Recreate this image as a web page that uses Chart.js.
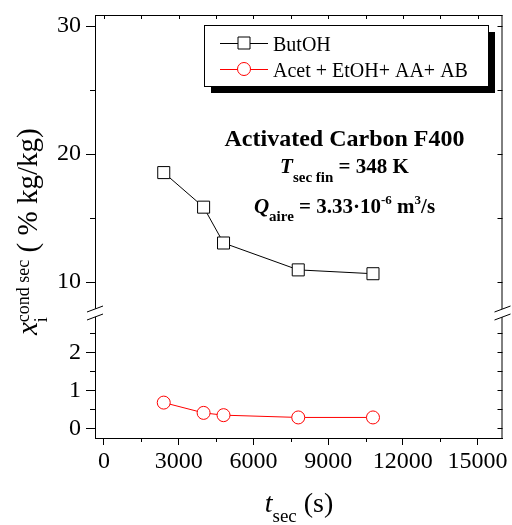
<!DOCTYPE html>
<html>
<head>
<meta charset="utf-8">
<script src="https://cdn.jsdelivr.net/npm/chart.js@4/dist/chart.umd.min.js"></script>
<style>
  html, body { margin: 0; padding: 0; background: #fff; }
</style>
</head>
<body>
<canvas id="chart" width="512" height="525"></canvas>
<script>
// drying time t_sec (s)
const tButOH = [2400, 4000, 4800, 7800, 10800];
const butOH = [18.55, 15.85, 13.05, 10.95, 10.65];
const tOthers = [2400, 4000, 4800, 7800, 10800];
const others = [0.68, 0.41, 0.35, 0.29, 0.29];

const xTicks = [0, 3000, 6000, 9000, 12000, 15000];
const xMinor = [1500, 4500, 7500, 10500, 13500];
const yTopTicks = [10, 20, 30];
const yTopMinor = [15, 25];
const yBotTicks = [0, 1, 2];
const yBotMinor = [0.5, 1.5, 2.5];

const legendLabels = ['ButOH', 'Acet + EtOH+ AA+ AB'];

const SERIF = '"Liberation Serif", "Times New Roman", serif';
Chart.defaults.font.family = SERIF;
Chart.defaults.color = '#000';

// draws a run of text pieces (sub/superscripts) from x, returns width
function drawRuns(ctx, runs, x, y, measureOnly) {
    let cx = x;
    runs.forEach(r => {
        ctx.font = r.f;
        const w = ctx.measureText(r.t).width;
        if (!measureOnly) ctx.fillText(r.t, cx, y + (r.dy || 0));
        if (!r.stay) cx += w;
    });
    return cx - x;
}
function drawCentered(ctx, runs, cx, y) {
    const w = drawRuns(ctx, runs, 0, 0, true);
    drawRuns(ctx, runs, cx - w / 2, y);
}

// fixed axis size, no extra room for overhanging labels
function fitY(s) { s.width = 50; s.paddingTop = 0; s.paddingBottom = 0; }
function fitX(s) { s.height = 40; s.paddingLeft = 0; s.paddingRight = 0; }

const axisStyle = {
    grid: { drawOnChartArea: false, color: '#000', tickLength: 9 },
    border: { color: '#000', width: 1 },
    ticks: { color: '#000', font: { size: 24 }, padding: 5, callback: v => String(v) }
};

const extras = {
    id: 'extras',
    afterDraw(chart) {
        const ctx = chart.ctx;
        const a = chart.chartArea;
        const x = chart.scales.x, yT = chart.scales.yTop, yB = chart.scales.yBot;
        ctx.save();
        ctx.strokeStyle = '#000';
        ctx.lineWidth = 1;

        // top and right frame
        ctx.beginPath();
        ctx.moveTo(a.left, a.top + 0.5); ctx.lineTo(a.right, a.top + 0.5);
        ctx.moveTo(a.right - 0.5, a.top); ctx.lineTo(a.right - 0.5, a.bottom);
        ctx.stroke();

        ctx.beginPath();
        // x minor ticks (outside) and top ticks (inside)
        xMinor.forEach(v => {
            const px = Math.round(x.getPixelForValue(v)) + 0.5;
            ctx.moveTo(px, a.bottom); ctx.lineTo(px, a.bottom + 4);
        });
        xTicks.concat(xMinor).forEach(v => {
            const px = Math.round(x.getPixelForValue(v)) + 0.5;
            ctx.moveTo(px, a.top); ctx.lineTo(px, a.top + 4);
        });
        // y minor ticks (outside) and right ticks (inside)
        [[yT, yTopTicks, yTopMinor], [yB, yBotTicks, yBotMinor]].forEach(([s, maj, min]) => {
            min.forEach(v => {
                const py = Math.round(s.getPixelForValue(v)) + 0.5;
                ctx.moveTo(a.left - 5, py); ctx.lineTo(a.left, py);
            });
            maj.concat(min).forEach(v => {
                const py = Math.round(s.getPixelForValue(v)) + 0.5;
                ctx.moveTo(a.right - 5, py); ctx.lineTo(a.right, py);
            });
        });
        ctx.stroke();

        // axis break marks
        const yb = yT.bottom - 1;
        [a.left, a.right].forEach(bx => {
            ctx.fillStyle = '#fff';
            ctx.beginPath();
            ctx.moveTo(bx - 8, yb + 1); ctx.lineTo(bx + 8, yb - 5);
            ctx.lineTo(bx + 8, yb + 3); ctx.lineTo(bx - 8, yb + 9);
            ctx.closePath();
            ctx.fill();
            ctx.beginPath();
            ctx.moveTo(bx - 8, yb + 1); ctx.lineTo(bx + 8, yb - 5);
            ctx.moveTo(bx - 8, yb + 9); ctx.lineTo(bx + 8, yb + 3);
            ctx.stroke();
        });

        // legend with drop shadow
        const lx = 204, ly = 25, lw = 284, lh = 61;
        ctx.fillStyle = '#000';
        ctx.fillRect(lx + 7, ly + 7, lw, lh);
        ctx.fillStyle = '#fff';
        ctx.fillRect(lx, ly, lw, lh);
        ctx.strokeRect(lx + 0.5, ly + 0.5, lw, lh);
        const rows = [ly + 18, ly + 44];
        chart.data.datasets.forEach((ds, i) => {
            const ry = rows[i];
            ctx.strokeStyle = ds.borderColor;
            ctx.beginPath();
            ctx.moveTo(220, ry + 0.5); ctx.lineTo(268, ry + 0.5);
            ctx.stroke();
            ctx.fillStyle = '#fff';
            ctx.beginPath();
            if (ds.pointStyle === 'rect') ctx.rect(238, ry - 6, 12, 12);
            else ctx.arc(244, ry, 6.5, 0, Math.PI * 2);
            ctx.fill(); ctx.stroke();
            ctx.fillStyle = '#000';
            ctx.font = '20px ' + SERIF;
            ctx.textBaseline = 'alphabetic';
            ctx.fillText(legendLabels[i], 273, ry + 8);
        });

        // annotation
        ctx.fillStyle = '#000';
        ctx.textBaseline = 'alphabetic';
        const B = 'bold ', BI = 'italic bold ';
        drawCentered(ctx, [{ t: 'Activated Carbon F400', f: B + '24px ' + SERIF }], 344.5, 146);
        drawCentered(ctx, [
            { t: 'T', f: BI + '21px ' + SERIF },
            { t: 'sec fin', f: B + '15px ' + SERIF, dy: 9 },
            { t: ' = 348 K', f: B + '21px ' + SERIF }
        ], 344.5, 173);
        drawCentered(ctx, [
            { t: 'Q', f: BI + '21px ' + SERIF },
            { t: 'aire', f: B + '15px ' + SERIF, dy: 8 },
            { t: ' = 3.33\u00b710', f: B + '21px ' + SERIF },
            { t: '-6', f: B + '13px ' + SERIF, dy: -9 },
            { t: ' m', f: B + '21px ' + SERIF },
            { t: '3', f: B + '13px ' + SERIF, dy: -9 },
            { t: '/s', f: B + '21px ' + SERIF }
        ], 344.5, 213);

        // x title
        drawCentered(ctx, [
            { t: 't', f: 'italic 28px ' + SERIF },
            { t: 'sec', f: '19px ' + SERIF, dy: 10 },
            { t: ' (s)', f: '28px ' + SERIF }
        ], 299, 512);

        // y title (rotated)
        ctx.translate(37, 335);
        ctx.rotate(-Math.PI / 2);
        drawRuns(ctx, [
            { t: 'x', f: 'italic 29px ' + SERIF },
            { t: 'i', f: '18px ' + SERIF, dy: 10, stay: true },
            { t: 'cond sec', f: '18px ' + SERIF, dy: -8 },
            { t: ' ( % kg/kg)', f: '29px ' + SERIF }
        ], 0, 0);
        ctx.restore();
    }
};

new Chart(document.getElementById('chart'), {
    type: 'line',
    data: {
        datasets: [
            {
                label: legendLabels[0],
                data: tButOH.map((t, i) => ({ x: t, y: butOH[i] })),
                yAxisID: 'yTop',
                borderColor: '#000', borderWidth: 1,
                backgroundColor: '#fff',
                pointStyle: 'rect', pointRadius: 8.5, pointBorderWidth: 1,
                pointBorderColor: '#000', pointBackgroundColor: '#fff'
            },
            {
                label: legendLabels[1],
                data: tOthers.map((t, i) => ({ x: t, y: others[i] })),
                yAxisID: 'yBot',
                borderColor: '#ff0000', borderWidth: 1,
                backgroundColor: '#fff',
                pointStyle: 'circle', pointRadius: 6.5, pointBorderWidth: 1,
                pointBorderColor: '#ff0000', pointBackgroundColor: '#fff'
            }
        ]
    },
    options: {
        responsive: false,
        animation: false,
        devicePixelRatio: 1,
        layout: { padding: { left: 45, right: 6, top: 15, bottom: 47 } },
        plugins: { legend: { display: false }, tooltip: { enabled: false } },
        scales: {
            x: {
                type: 'linear', min: -360, max: 16000,
                afterBuildTicks: s => { s.ticks = xTicks.map(v => ({ value: v })); },
                afterFit: fitX,
                grid: { drawOnChartArea: false, color: '#000', tickLength: 7 },
                border: { color: '#000', width: 1 },
                ticks: { color: '#000', font: { size: 24 }, padding: 2, maxRotation: 0, callback: v => String(v) }
            },
            // stacked scales: the first one listed sits at the bottom
            yBot: Object.assign({}, axisStyle, {
                type: 'linear', position: 'left', stack: 'y', stackWeight: 126,
                min: -0.25, max: 3.06,
                afterBuildTicks: s => { s.ticks = yBotTicks.map(v => ({ value: v })); },
                afterFit: fitY
            }),
            yTop: Object.assign({}, axisStyle, {
                type: 'linear', position: 'left', stack: 'y', stackWeight: 297,
                min: 7.66, max: 30.86,
                afterBuildTicks: s => { s.ticks = yTopTicks.map(v => ({ value: v })); },
                afterFit: fitY
            })
        }
    },
    plugins: [extras]
});
</script>
</body>
</html>
